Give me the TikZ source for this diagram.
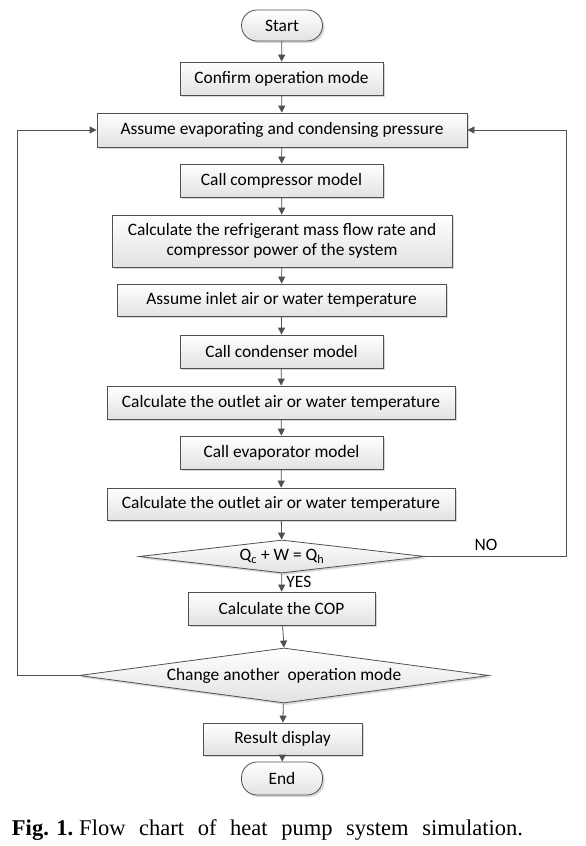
\documentclass[tikz,border=0pt]{standalone}
\usepackage{fontspec}
\setmainfont{Carlito}
\newfontfamily\capfont{Liberation Serif}
\usepackage{tikz}
\usetikzlibrary{shapes.geometric,shadows,arrows.meta}
\definecolor{linegray}{HTML}{505050}
\definecolor{fillgray}{HTML}{E2E2E2}
\tikzset{
  font={\fontsize{17.4pt}{20pt}\selectfont},
  box/.style={draw=linegray, line width=0.8pt, top color=white, bottom color=fillgray,
    inner sep=0pt, minimum height=33pt, align=center,
    drop shadow={shadow xshift=2pt, shadow yshift=-2pt, fill=gray!60, opacity=0.5}},
  term/.style={box, rounded corners=15.5pt},
  decision/.style={box, shape=diamond},
  flow/.style={draw=linegray, line width=0.8pt, -{Triangle[length=7pt,width=7pt]}}}

\begin{document}
\begin{tikzpicture}[x=1pt,y=1pt]
\fill [white] (0,0) rectangle (586,-846);
\useasboundingbox (0,0) rectangle (586,-846);
% main column
\node [term, minimum width=81pt, minimum height=31pt] (start) at (282,-25.5) {Start};
\node [box, minimum width=203pt] (confirm) at (281.5,-78.5) {Confirm operation mode};
\node [box, minimum width=370pt, minimum height=34pt] (assume) at (282,-130) {Assume evaporating and condensing pressure};
\node [box, minimum width=203pt] (compressor) at (281.5,-180.5) {Call compressor model};
\node [box, minimum width=340pt, minimum height=52pt] (massflow) at (282,-241) {Calculate the refrigerant mass flow rate and\\compressor power of the system};
\node [box, minimum width=329pt, minimum height=32pt] (inlet) at (281.5,-300) {Assume inlet air or water temperature};
\node [box, minimum width=203pt] (condenser) at (281.5,-351.5) {Call condenser model};
\node [box, minimum width=348pt] (outleta) at (281,-402.5) {Calculate the outlet air or water temperature};
\node [box, minimum width=203pt] (evaporator) at (281.5,-452.5) {Call evaporator model};
\node [box, minimum width=348pt, minimum height=32pt] (outletb) at (281,-504) {Calculate the outlet air or water temperature};
\node [decision, aspect=8.7, minimum width=286pt, minimum height=33pt] (balance) at (282,-556.5) {Q\textsubscript{c} + W = Q\textsubscript{h}};
\node [box, minimum width=187pt] (cop) at (281.5,-608.5) {Calculate the COP};
\node [decision, aspect=7.5, minimum width=410pt, minimum height=55pt] (mode) at (284,-675.5) {Change another \ operation mode};
\node [box, minimum width=159pt, minimum height=32pt] (result) at (282.5,-739) {Result display};
\node [term, minimum width=81pt, minimum height=33pt] (stop) at (282,-778.5) {End};
% arrows down
\draw [flow] (start) -- (confirm);
\draw [flow] (confirm) -- (assume);
\draw [flow] (assume) -- (compressor);
\draw [flow] (compressor) -- (massflow);
\draw [flow] (massflow) -- (inlet);
\draw [flow] (inlet) -- (condenser);
\draw [flow] (condenser) -- (outleta);
\draw [flow] (outleta) -- (evaporator);
\draw [flow] (evaporator) -- (outletb);
\draw [flow] (outletb) -- (balance);
\draw [flow] (balance) -- node [pos=0.45, right=1pt] {YES} (cop);
\draw [flow] (cop) -- (mode.north);
\draw [flow] (mode) -- (result);
\draw [flow] (result) -- (stop);
% loops back
\coordinate (rloop) at (566,-556.5);
\coordinate (lloop) at (17,-675.5);
\draw [flow] (balance.east) -- (rloop) |- (assume.east);
\node (no) at (486,-545) {NO};
\draw [flow] (mode.west) -- (lloop) |- (assume.west);
% caption
\node [inner sep=0pt] (caption) at (267.5,-830) {\capfont\fontsize{22.5pt}{26pt}\selectfont\makebox[511pt][s]{\hbox{\textbf{Fig. 1.}}\hspace{6pt}Flow chart of heat pump system simulation.}};
\end{tikzpicture}
\end{document}
